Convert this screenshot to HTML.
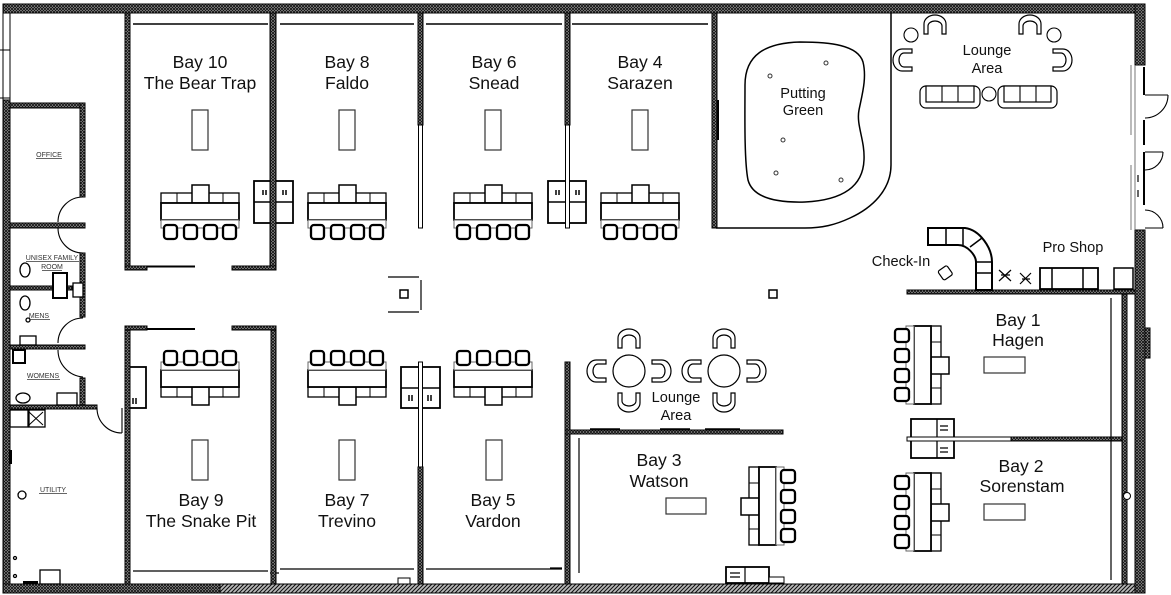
<!DOCTYPE html>
<html><head><meta charset="utf-8"><style>
html,body{margin:0;padding:0;background:#fff;width:1171px;height:595px;overflow:hidden;}
svg{display:block;}
.w{fill:url(#h);stroke:#000;stroke-width:1;}
.t{fill:#fff;stroke:#000;stroke-width:1;}
.L{font-family:"Liberation Sans",Arial,sans-serif;font-size:17.6px;text-anchor:middle;fill:#111;}
.S{font-family:"Liberation Sans",Arial,sans-serif;font-size:14.6px;text-anchor:middle;fill:#111;}
.s{font-family:"Liberation Sans",Arial,sans-serif;font-size:7px;text-anchor:middle;fill:#333;}
</style></head><body>
<svg width="1171" height="595" viewBox="0 0 1171 595" xmlns="http://www.w3.org/2000/svg">
<defs>
<pattern id="h" width="3" height="3" patternUnits="userSpaceOnUse"><rect width="3" height="3" fill="#aaa"/><path d="M0,0L3,3M3,0L0,3" stroke="#111" stroke-width="0.9"/></pattern>
<pattern id="dg" width="4" height="4" patternUnits="userSpaceOnUse"><rect width="4" height="4" fill="#bbb"/><path d="M0,4L4,0M-1,1L1,-1M3,5L5,3" stroke="#111" stroke-width="1.1"/></pattern>
<g id="dT">
<rect x="-39" y="193" width="78" height="10" fill="#fff" stroke="#000" stroke-width="1.3"/>
<path d="M-23,193V203M23,193V203" stroke="#000" stroke-width="1"/>
<rect x="-8" y="185" width="17" height="18" fill="#fff" stroke="#000" stroke-width="1.5"/>
<rect x="-39" y="203" width="78" height="17" fill="#fff" stroke="#000" stroke-width="1.8"/>
<rect x="-39" y="220" width="78" height="8" fill="#fff" stroke="#666" stroke-width="1"/>
<rect x="-36" y="225" width="13" height="14" rx="3" fill="#fff" stroke="#000" stroke-width="2.3"/>
<rect x="-16" y="225" width="13" height="14" rx="3" fill="#fff" stroke="#000" stroke-width="2.3"/>
<rect x="4" y="225" width="13" height="14" rx="3" fill="#fff" stroke="#000" stroke-width="2.3"/>
<rect x="23" y="225" width="13" height="14" rx="3" fill="#fff" stroke="#000" stroke-width="2.3"/>
</g>
<g id="lc">
<path d="M-11,8 L-11,-2 A11,9 0 0 1 11,-2 L11,8 L7,8 L7,0 A7,5 0 0 0 -7,0 L-7,8 Z" fill="#fff" stroke="#000" stroke-width="1.2"/>
</g>
</defs>

<!-- outer walls -->
<rect x="3" y="4" width="1142" height="9" class="w"/>
<rect x="3" y="100" width="7" height="493" class="w"/>
<rect x="3" y="584" width="1142" height="9" class="w"/>
<rect x="220" y="584" width="925" height="9" fill="url(#dg)" stroke="#000" stroke-width="1"/>
<rect x="1135" y="4" width="10" height="61" class="w"/>
<rect x="1135" y="230" width="10" height="363" class="w"/>
<!-- left window -->
<path d="M3,13V100M10,13V100M0,50H10M0,98H10" stroke="#000" stroke-width="1" fill="none"/>
<!-- right door area -->
<path d="M1135,65V230M1131,65V135M1131,165V230" stroke="#555" stroke-width="0.8" fill="none"/>
<path d="M1144,67V95M1144,120V145M1144,152V205" stroke="#000" stroke-width="2" fill="none"/>
<path d="M1145,95H1168M1168,95A23,23 0 0 1 1145,118" stroke="#000" stroke-width="1.1" fill="none"/>
<path d="M1145,152H1163M1163,152A18,18 0 0 1 1145,170" stroke="#000" stroke-width="1.1" fill="none"/>
<path d="M1145,228H1163M1145,210A18,18 0 0 1 1163,228" stroke="#000" stroke-width="1.1" fill="none"/>
<path d="M1138,175V182M1138,190V197" stroke="#000" stroke-width="1.2"/>
<rect x="1145" y="328" width="5" height="30" class="w"/>

<!-- top bay interior lines -->
<path d="M133,24H268M280,24H414M426,24H562M572,24H708" stroke="#000" stroke-width="1.5"/>
<!-- bottom bay interior lines -->
<path d="M133,571H268M280,569H414M426,569H562M270,573H279" stroke="#000" stroke-width="1.3"/>

<!-- cabinets top -->
<rect x="254" y="181" width="39" height="42" fill="#fff" stroke="#000" stroke-width="1.8"/>
<path d="M254,202H293M263,190v5M266,190v5M283,190v5M286,190v5" stroke="#000" stroke-width="1.5"/>
<rect x="548" y="181" width="38" height="42" fill="#fff" stroke="#000" stroke-width="1.8"/>
<path d="M548,202H586M556,190v5M559,190v5M576,190v5M579,190v5" stroke="#000" stroke-width="1.5"/>
<!-- cabinets bottom -->
<rect x="401" y="367" width="39" height="41" fill="#fff" stroke="#000" stroke-width="1.8"/>
<path d="M401,388H440M409,395v6M412,395v6M428,395v6M431,395v6" stroke="#000" stroke-width="1.5"/>
<rect x="128" y="367" width="18" height="41" fill="#fff" stroke="#000" stroke-width="1.8"/>
<path d="M133,398v6M136,398v6" stroke="#000" stroke-width="1.5"/>
<rect x="911" y="419" width="43" height="39" fill="#fff" stroke="#000" stroke-width="1.8"/>
<path d="M937,419V458M940,426h8M940,430h8M940,448h8M940,452h8" stroke="#000" stroke-width="1.3"/>

<!-- interior walls -->
<rect x="125" y="13" width="5" height="257" class="w"/>
<rect x="270" y="13" width="6" height="257" class="w"/>
<rect x="125" y="266" width="22" height="4" class="w"/>
<rect x="232" y="266" width="44" height="4" class="w"/>
<path d="M147,266.5H195" stroke="#000" stroke-width="2"/>
<rect x="418" y="13" width="5" height="112" class="w"/>
<rect x="418.5" y="125" width="4" height="103" class="t"/>
<rect x="565" y="13" width="5" height="112" class="w"/>
<rect x="565.5" y="125" width="4" height="103" class="t"/>
<rect x="712" y="13" width="5" height="215" class="w"/>
<path d="M718,100V140" stroke="#000" stroke-width="2"/>

<rect x="125" y="326" width="5" height="258" class="w"/>
<rect x="271" y="326" width="5" height="258" class="w"/>
<rect x="125" y="326" width="22" height="4" class="w"/>
<rect x="232" y="326" width="44" height="4" class="w"/>
<path d="M147,329H195" stroke="#000" stroke-width="2"/>
<rect x="418.5" y="362" width="4" height="105" class="t"/>
<rect x="418" y="467" width="5" height="117" class="w"/>
<rect x="565" y="362" width="5" height="222" class="w"/>
<rect x="565" y="430" width="218" height="4" class="w"/>
<path d="M590,429H620M660,429H690M705,429H740" stroke="#000" stroke-width="1.5"/>
<path d="M579,438V573M550,568H562" stroke="#000" stroke-width="1.2"/>

<rect x="907" y="290" width="228" height="4" class="w"/>
<rect x="907" y="437" width="104" height="4" class="t"/>
<rect x="1011" y="437" width="116" height="4" class="w"/>
<rect x="1122" y="294" width="5" height="290" class="w"/>
<path d="M1111,298V580" stroke="#000" stroke-width="1.2"/>
<circle cx="1127" cy="496" r="3.5" fill="#fff" stroke="#000"/>

<!-- putting green -->
<path d="M891,13V165C891,190 872,208 850,218C835,225 822,228 805,228H716" fill="none" stroke="#000" stroke-width="1.5"/>
<path d="M800,42C830,42 858,45 863,62C867,78 862,95 859,110C856,125 865,140 864,160C863,185 845,200 805,202C770,203 752,195 748,180C744,160 745,110 745,85C745,55 765,43 800,42Z" fill="none" stroke="#000" stroke-width="1.5"/>
<g fill="none" stroke="#333" stroke-width="1"><circle cx="770" cy="76" r="2"/><circle cx="826" cy="63" r="2"/><circle cx="783" cy="140" r="2"/><circle cx="776" cy="173" r="2"/><circle cx="841" cy="180" r="2"/></g>

<!-- desks -->
<use href="#dT" x="200"/>
<use href="#dT" x="347"/>
<use href="#dT" x="493"/>
<use href="#dT" x="640"/>
<use href="#dT" transform="translate(200,590) scale(1,-1)"/>
<use href="#dT" transform="translate(347,590) scale(1,-1)"/>
<use href="#dT" transform="translate(493,590) scale(1,-1)"/>
<use href="#dT" transform="matrix(0,1,-1,0,1134,365)"/>
<use href="#dT" transform="matrix(0,1,-1,0,1134,512)"/>
<use href="#dT" transform="matrix(0,1,1,0,556,506)"/>

<!-- screens -->
<g fill="#fff" stroke="#333" stroke-width="1.2">
<rect x="192" y="110" width="16" height="40"/>
<rect x="339" y="110" width="16" height="40"/>
<rect x="485" y="110" width="16" height="40"/>
<rect x="632" y="110" width="16" height="40"/>
<rect x="192" y="440" width="16" height="40"/>
<rect x="339" y="440" width="16" height="40"/>
<rect x="486" y="440" width="16" height="40"/>
<rect x="984" y="357" width="41" height="16"/>
<rect x="984" y="504" width="41" height="16"/>
<rect x="666" y="498" width="40" height="16"/>
</g>

<!-- misc small -->
<path d="M388,277H419M388,312H419M421,280V310" stroke="#000" stroke-width="1.2" fill="none"/>
<rect x="400" y="290" width="8" height="8" fill="#fff" stroke="#000" stroke-width="1.5"/>
<rect x="769" y="290" width="8" height="8" fill="#fff" stroke="#000" stroke-width="1.5"/>
<rect x="398" y="578" width="12" height="6" fill="#fff" stroke="#000"/>
<rect x="726" y="567" width="43" height="16" fill="#fff" stroke="#000" stroke-width="1.8"/>
<path d="M745,567V583M730,573h10M730,577h10" stroke="#000" stroke-width="1.2"/>
<rect x="769" y="577" width="15" height="6" fill="#fff" stroke="#000"/>

<!-- lounge middle -->
<circle cx="629" cy="371" r="16" fill="#fff" stroke="#000" stroke-width="1.2"/>
<circle cx="724" cy="371" r="16" fill="#fff" stroke="#000" stroke-width="1.2"/>
<use href="#lc" transform="translate(629,340)"/>
<use href="#lc" transform="translate(598,371) rotate(-90)"/>
<use href="#lc" transform="translate(660,371) rotate(90)"/>
<use href="#lc" transform="translate(629,401) rotate(180)"/>
<use href="#lc" transform="translate(724,340)"/>
<use href="#lc" transform="translate(693,371) rotate(-90)"/>
<use href="#lc" transform="translate(755,371) rotate(90)"/>
<use href="#lc" transform="translate(724,401) rotate(180)"/>

<!-- lounge top right -->
<use href="#lc" transform="translate(935,26)"/>
<use href="#lc" transform="translate(1030,26)"/>
<use href="#lc" transform="translate(904,60) rotate(-90)"/>
<use href="#lc" transform="translate(1061,60) rotate(90)"/>
<circle cx="911" cy="35" r="7" fill="#fff" stroke="#000" stroke-width="1.1"/>
<circle cx="1054" cy="35" r="7" fill="#fff" stroke="#000" stroke-width="1.1"/>
<circle cx="989" cy="94" r="7" fill="#fff" stroke="#000" stroke-width="1.1"/>
<g fill="#fff" stroke="#000" stroke-width="1.2">
<rect x="920" y="86" width="60" height="22" rx="6"/>
<rect x="926" y="86" width="48" height="16"/>
<rect x="998" y="86" width="59" height="22" rx="6"/>
<rect x="1004" y="86" width="47" height="16"/>
</g>
<path d="M942,86V102M958,86V102M1020,86V102M1036,86V102" stroke="#000" stroke-width="1.1"/>

<!-- check-in counter -->
<path d="M928,228H965C980,230 992,248 992,262V290H976V262C976,256 968,245 958,245H928Z" fill="#fff" stroke="#000" stroke-width="2"/>
<path d="M946,228V245M963,228V245M970,247L982,238M976,262H992M976,273H992" stroke="#000" stroke-width="1.5"/>
<rect x="940" y="267" width="11" height="11" rx="2" transform="rotate(-35 946 273)" fill="#fff" stroke="#000" stroke-width="1.2"/>
<g stroke="#000" stroke-width="1.2" fill="none">
<path d="M999,270L1011,281M1011,270L999,281M1001,275h9"/>
<path d="M1020,273L1031,284M1031,273L1020,284M1022,279h8"/>
</g>
<rect x="1040" y="268" width="58" height="21" fill="#fff" stroke="#000" stroke-width="1.8"/>
<path d="M1052,268V289M1083,268V289" stroke="#000" stroke-width="1.5"/>
<rect x="1114" y="268" width="19" height="21" fill="#fff" stroke="#000" stroke-width="1.5"/>

<!-- left rooms -->
<rect x="10" y="103" width="75" height="5" class="w"/>
<rect x="80" y="103" width="5" height="94" class="w"/>
<rect x="10" y="223" width="75" height="5" class="w"/>
<rect x="80" y="253" width="5" height="64" class="w"/>
<rect x="10" y="286" width="62" height="4" class="w"/>
<rect x="10" y="345" width="75" height="4" class="w"/>
<rect x="80" y="378" width="5" height="29" class="w"/>
<rect x="10" y="405" width="87" height="4" class="w"/>
<g fill="none" stroke="#000" stroke-width="1.1">
<path d="M83,197A25,25 0 0 0 58,222"/>
<path d="M58,228A25,25 0 0 0 83,253"/>
<path d="M83,318A25,25 0 0 0 58,343"/>
<path d="M58,350A27,27 0 0 0 83,377"/>
<path d="M97,408A25,25 0 0 0 122,433M122,408V433"/>
</g>
<g fill="#fff" stroke="#000" stroke-width="1.3">
<ellipse cx="25" cy="270" rx="5" ry="7"/>
<ellipse cx="25" cy="303" rx="5" ry="7"/>
<ellipse cx="28" cy="320" rx="2" ry="2"/>
<rect x="53" y="273" width="14" height="25" stroke-width="2"/>
<rect x="73" y="283" width="10" height="14"/>
<rect x="20" y="336" width="16" height="9"/>
<rect x="13" y="350" width="12" height="13" stroke-width="2"/>
<ellipse cx="23" cy="398" rx="7" ry="5"/>
<rect x="57" y="393" width="20" height="12"/>
<rect x="10" y="410" width="18" height="17"/>
<rect x="29" y="410" width="16" height="17"/>
<circle cx="22" cy="495" r="4"/>
<circle cx="15" cy="558" r="1.5"/>
<circle cx="15" cy="576" r="1.5"/>
<rect x="40" y="570" width="20" height="14"/>
</g>
<path d="M29,412L43,425M43,412L29,425" stroke="#000" stroke-width="1"/>
<rect x="23" y="581" width="15" height="3" fill="#000"/>
<rect x="9" y="450" width="3" height="14" fill="#000"/>

<text class="s" x="49" y="157">OFFICE</text>
<path d="M36,158.5H62" stroke="#333" stroke-width="0.7"/>
<text class="s" x="52" y="260">UNISEX FAMILY</text>
<path d="M26,261.5H79" stroke="#333" stroke-width="0.7"/>
<text class="s" x="52" y="269">ROOM</text>
<path d="M42,270.5H62" stroke="#333" stroke-width="0.7"/>
<text class="s" x="39" y="318">MENS</text>
<path d="M29,319.5H50" stroke="#333" stroke-width="0.7"/>
<text class="s" x="43" y="378">WOMENS</text>
<path d="M27,379.5H60" stroke="#333" stroke-width="0.7"/>
<text class="s" x="53" y="492">UTILITY</text>
<path d="M39,493.5H67" stroke="#333" stroke-width="0.7"/>

<!-- labels -->
<text class="L" x="200" y="68">Bay 10</text>
<text class="L" x="200" y="89">The Bear Trap</text>
<text class="L" x="347" y="68">Bay 8</text>
<text class="L" x="347" y="89">Faldo</text>
<text class="L" x="494" y="68">Bay 6</text>
<text class="L" x="494" y="89">Snead</text>
<text class="L" x="640" y="68">Bay 4</text>
<text class="L" x="640" y="89">Sarazen</text>
<text class="L" x="201" y="506">Bay 9</text>
<text class="L" x="201" y="527">The Snake Pit</text>
<text class="L" x="347" y="506">Bay 7</text>
<text class="L" x="347" y="527">Trevino</text>
<text class="L" x="493" y="506">Bay 5</text>
<text class="L" x="493" y="527">Vardon</text>
<text class="L" x="659" y="466">Bay 3</text>
<text class="L" x="659" y="487">Watson</text>
<text class="L" x="1018" y="326">Bay 1</text>
<text class="L" x="1018" y="346">Hagen</text>
<text class="L" x="1021" y="472">Bay 2</text>
<text class="L" x="1022" y="492">Sorenstam</text>
<text class="S" x="803" y="98">Putting</text>
<text class="S" x="803" y="115">Green</text>
<text class="S" x="987" y="55">Lounge</text>
<text class="S" x="987" y="73">Area</text>
<text class="S" x="676" y="402">Lounge</text>
<text class="S" x="676" y="420">Area</text>
<text class="S" x="901" y="266">Check-In</text>
<text class="S" x="1073" y="252">Pro Shop</text>
</svg>
</body></html>
